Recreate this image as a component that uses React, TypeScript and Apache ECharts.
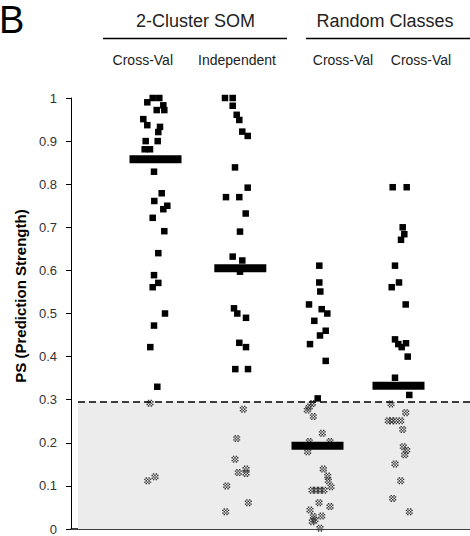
import React, { useEffect, useRef } from "react";
import * as echarts from "echarts";

// Column headers
const groupLabels = ["2-Cluster SOM", "Random Classes"];
const columnLabels = ["Cross-Val", "Independent", "Cross-Val", "Cross-Val"];
const yAxisName = "PS (Prediction Strength)";
const threshold = 0.295;

// Points: [horizontal position in plot units, PS value]
const col1Above = [
  [152.7, 1.0], [159.3, 1.0], [147.3, 0.99], [156.7, 0.972], [163.3, 0.983], [164.3, 0.972],
  [143.3, 0.951], [147.3, 0.937], [160, 0.933], [158.3, 0.921], [145.7, 0.9], [157.7, 0.9],
  [144.7, 0.881], [150, 0.881], [154, 0.829], [161.7, 0.779], [154.3, 0.761], [163.3, 0.742],
  [167.3, 0.75], [152.7, 0.722], [164.3, 0.691], [158.3, 0.64], [154, 0.589], [158.3, 0.571],
  [152.7, 0.561], [165, 0.5], [154, 0.472], [150.3, 0.422], [157.3, 0.33],
];
const col1Below = [[150, 0.292], [147.7, 0.112], [155, 0.121]];

const col2Above = [
  [225, 1.0], [232.7, 1.0], [232.7, 0.982], [236.7, 0.961], [239.3, 0.949], [242.3, 0.922],
  [247.7, 0.912], [235, 0.839], [247.7, 0.792], [226, 0.77], [239.3, 0.77], [245.7, 0.732],
  [240, 0.69], [232.7, 0.632], [242.3, 0.623], [240, 0.597], [234, 0.512], [237.3, 0.5],
  [246, 0.49], [239.3, 0.432], [246, 0.422], [235.3, 0.371], [248, 0.371],
];
const col2Below = [
  [243.3, 0.278], [236.7, 0.21], [235, 0.162], [238.3, 0.131], [246, 0.139], [246, 0.129],
  [226.7, 0.1], [248.3, 0.061], [225.7, 0.04],
];

const col3Above = [
  [319.3, 0.611], [319.3, 0.572], [320.3, 0.551], [309, 0.521], [321.7, 0.51], [327.3, 0.5],
  [314.3, 0.483], [325.7, 0.46], [320, 0.449], [310, 0.429], [325.7, 0.39], [317.7, 0.303],
];
const col3Below = [
  [312.3, 0.291], [309.3, 0.283], [307.3, 0.276], [313.3, 0.261], [322.3, 0.222], [309.3, 0.203],
  [330, 0.203], [307.7, 0.179], [323.3, 0.139], [327.7, 0.123], [328.3, 0.112], [331, 0.098],
  [312, 0.09], [316, 0.09], [320, 0.09], [324, 0.09], [319, 0.061], [330, 0.052], [310, 0.044],
  [321.7, 0.03], [313.3, 0.029], [315, 0.021], [312.3, 0.017], [320, 0.002],
];

const col4Above = [
  [392.7, 0.793], [406.7, 0.793], [402.7, 0.7], [404.3, 0.684], [401, 0.671], [395, 0.611],
  [399, 0.572], [391.7, 0.561], [405.7, 0.521], [395, 0.44], [398.3, 0.429], [401.7, 0.422],
  [406, 0.431], [407.7, 0.4], [395, 0.351], [409.3, 0.311],
];
const col4Below = [
  [391, 0.29], [405.7, 0.27], [388.3, 0.251], [391.7, 0.251], [395, 0.251], [400.7, 0.251],
  [402.7, 0.231], [403.3, 0.191], [406.7, 0.183], [404.7, 0.172], [395, 0.151], [400.7, 0.112],
  [392.7, 0.071], [409.3, 0.04],
];

// Column medians (thick bars)
const medianX = [155.5, 240.3, 317.5, 398.5];
const medianY = [0.858, 0.605, 0.193, 0.3325];

const FONT = "'Liberation Sans', Arial, sans-serif";

function checkerPath() {
  let d = "";
  for (let i = 0; i < 5; i++) {
    for (let j = 0; j < 5; j++) {
      if ((i + j) % 2 === 1) d += `M${i},${j}h1v1h-1z`;
    }
  }
  return "path://" + d;
}

export default function App() {
  const ref = useRef<HTMLDivElement>(null);
  useEffect(() => {
    if (!ref.current) return;
    const chart = echarts.init(ref.current, undefined, { renderer: "svg" });
    const above = [...col1Above, ...col2Above, ...col3Above, ...col4Above];
    const below = [...col1Below, ...col2Below, ...col3Below, ...col4Below];
    const medians = medianX.map((x, i) => [x, medianY[i]]);
    const grayMark = checkerPath();
    chart.setOption({
      animation: false,
      backgroundColor: "#fff",
      grid: { left: 71, right: 0, top: 98, bottom: 7 },
      xAxis: {
        type: "value",
        min: 71,
        max: 470,
        axisLine: { show: true, onZero: false, lineStyle: { color: "#000", width: 1.5 } },
        axisTick: { show: false },
        axisLabel: { show: false },
        splitLine: { show: false },
      },
      yAxis: {
        type: "value",
        min: 0,
        max: 1,
        interval: 0.1,
        axisLine: { show: true, lineStyle: { color: "#000", width: 1 } },
        axisTick: { show: true, length: 5, lineStyle: { color: "#000" } },
        axisLabel: { fontFamily: FONT, fontSize: 13, color: "#333", margin: 14 },
        splitLine: { show: false },
      },
      graphic: [
        {
          type: "text",
          x: -1,
          y: 20,
          style: { text: "B", font: `38px ${FONT}`, fill: "#000", textVerticalAlign: "middle" },
        },
        {
          type: "text",
          x: 195.5,
          y: 21,
          style: { text: groupLabels[0], font: `18px ${FONT}`, fill: "#222", textAlign: "center", textVerticalAlign: "middle" },
        },
        {
          type: "text",
          x: 385,
          y: 21,
          style: { text: groupLabels[1], font: `18px ${FONT}`, fill: "#222", textAlign: "center", textVerticalAlign: "middle" },
        },
        { type: "line", shape: { x1: 103, y1: 38.5, x2: 287, y2: 38.5 }, style: { stroke: "#000", lineWidth: 1.5 } },
        { type: "line", shape: { x1: 306, y1: 38.5, x2: 470, y2: 38.5 }, style: { stroke: "#000", lineWidth: 1.5 } },
        ...[142.8, 237, 343, 421].map((cx, i) => ({
          type: "text",
          x: cx,
          y: 60,
          style: { text: columnLabels[i], font: `14px ${FONT}`, fill: "#222", textAlign: "center", textVerticalAlign: "middle" },
        })),
        {
          type: "text",
          x: 20,
          y: 296,
          rotation: Math.PI / 2,
          style: { text: yAxisName, font: `bold 15px ${FONT}`, fill: "#000", textAlign: "center", textVerticalAlign: "middle" },
        },
      ],
      series: [
        {
          type: "scatter",
          data: below,
          symbol: grayMark,
          symbolSize: 7,
          itemStyle: { color: "#333", opacity: 1 },
          z: 3,
          markArea: {
            silent: true,
            itemStyle: { color: "#ececec", opacity: 1 },
            data: [[{ coord: [78, 0] }, { coord: [470, threshold] }]],
          },
          markLine: {
            silent: true,
            symbol: "none",
            label: { show: false },
            lineStyle: { color: "#000", width: 1.5, type: [7, 4], opacity: 1 },
            data: [[{ coord: [78, threshold] }, { coord: [470, threshold] }]],
          },
        },
        {
          type: "scatter",
          data: above,
          symbol: "rect",
          symbolSize: 6.5,
          itemStyle: { color: "#000", opacity: 1 },
          z: 4,
        },
        {
          type: "scatter",
          data: medians,
          symbol: "rect",
          symbolSize: [52, 8],
          itemStyle: { color: "#000", opacity: 1 },
          z: 5,
        },
      ],
    });
    return () => chart.dispose();
  }, []);
  return <div ref={ref} style={{ position: "absolute", left: 0, top: 0, width: 470, height: 536 }} />;
}
